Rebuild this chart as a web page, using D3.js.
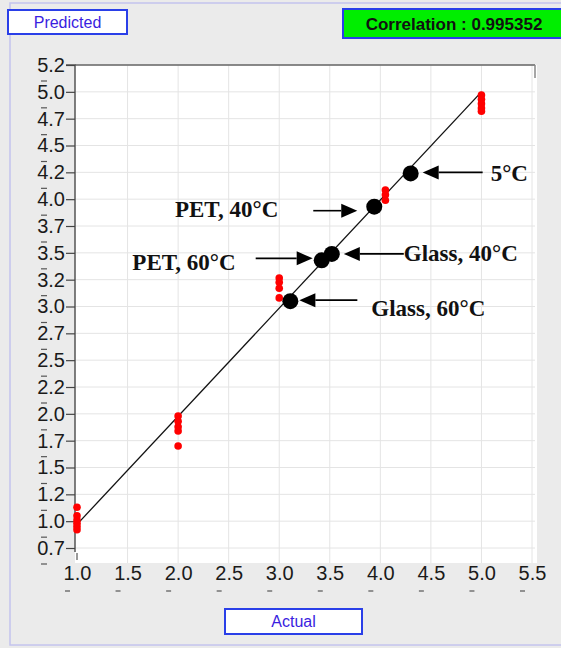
<!DOCTYPE html>
<html><head><meta charset="utf-8">
<script src="https://cdn.jsdelivr.net/npm/d3@7/dist/d3.min.js"></script>
<style>html,body{margin:0;padding:0;background:#ebebeb;}svg{display:block;}</style>
</head><body>
<svg id="chart" width="561" height="648"></svg>
<script>
// ---- data ----
const yTicks = [0.75,1.0,1.25,1.5,1.75,2.0,2.25,2.5,2.75,3.0,3.25,3.5,3.75,4.0,4.25,4.5,4.75,5.0,5.25];
const yTickLabels = ["0.7","1.0","1.2","1.5","1.7","2.0","2.2","2.5","2.7","3.0","3.2","3.5","3.7","4.0","4.2","4.5","4.7","5.0","5.2"];
const xTicks = [1.0,1.5,2.0,2.5,3.0,3.5,4.0,4.5,5.0,5.5];
const xTickLabels = ["1.0","1.5","2.0","2.5","3.0","3.5","4.0","4.5","5.0","5.5"];
// measured (red) points
const measuredActual    = [1,1,1,1,1,1, 2,2,2,2,2, 3,3,3,3, 4.05,4.05,4.05, 5,5,5,5,5];
const measuredPredicted = [1.13,1.05,1.01,0.98,0.95,0.92, 1.98,1.93,1.88,1.84,1.70, 3.265,3.225,3.17,3.08, 4.085,4.04,3.99, 4.97,4.93,4.89,4.85,4.82];
// labelled (black) points
const sampleNames     = ["5°C","PET, 40°C","Glass, 40°C","PET, 60°C","Glass, 60°C"];
const sampleActual    = [4.30,3.94,3.52,3.42,3.11];
const samplePredicted = [4.24,3.93,3.49,3.43,3.05];
// fit line
const fitActual = [1.0, 5.0];
const fitPredicted = [0.97, 5.0];
const correlationText = "Correlation : 0.995352";

// ---- drawing ----
const svg = d3.select("#chart");
const x = d3.scaleLinear().domain([1, 5.5]).range([77, 532]);
const y = d3.scaleLinear().domain([0.75, 5.25]).range([548, 65]);

// outer frame
svg.append("rect").attr("x",10).attr("y",3).attr("width",560).attr("height",642)
  .attr("fill","#ebebeb").attr("stroke","#c4c4ee").attr("stroke-width",1.5);

// plot area
svg.append("rect").attr("x",75).attr("y",65).attr("width",462).attr("height",498).attr("fill","#ffffff");

// grid
svg.append("g").selectAll("line").data(yTicks).join("line")
  .attr("x1",75).attr("x2",535).attr("y1",d=>y(d)).attr("y2",d=>y(d))
  .attr("stroke","#e4e4e4").attr("stroke-width",1);
svg.append("g").selectAll("line").data(xTicks.slice(1)).join("line")
  .attr("x1",d=>x(d)).attr("x2",d=>x(d)).attr("y1",65).attr("y2",563)
  .attr("stroke","#e4e4e4").attr("stroke-width",1);

// frame lines
svg.append("line").attr("x1",75).attr("x2",535).attr("y1",65).attr("y2",65).attr("stroke","#666").attr("stroke-width",1.5);
svg.append("line").attr("x1",535).attr("x2",535).attr("y1",65).attr("y2",78).attr("stroke","#888").attr("stroke-width",1.5);

// y axis
const yAxis = d3.axisLeft(y).tickValues(yTicks).tickSize(9).tickFormat((d,i)=>yTickLabels[i]);
const gy = svg.append("g").attr("transform","translate(75,0)").call(yAxis);
gy.select(".domain").attr("stroke","#555").attr("stroke-width",1.5).attr("d","M-9,65H0V552");
gy.selectAll(".tick line").attr("stroke","#444").attr("stroke-width",1.2);
gy.selectAll(".tick text").attr("x",-10).attr("fill","#1a1a1a")
  .style("font-family","'Liberation Sans',Arial,sans-serif").style("font-size","20px");
// small dash artefacts above y labels
svg.append("g").selectAll("line").data(yTicks).join("line")
  .attr("x1",41).attr("x2",47).attr("y1",d=>y(d)+16).attr("y2",d=>y(d)+16)
  .attr("stroke","#555").attr("stroke-width",1.2);

// x axis (labels only)
const xAxis = d3.axisBottom(x).tickValues(xTicks).tickSize(0).tickFormat((d,i)=>xTickLabels[i]);
const gx = svg.append("g").attr("transform","translate(0,563)").call(xAxis);
gx.select(".domain").remove();
gx.selectAll(".tick text").attr("y",3).attr("fill","#1a1a1a")
  .style("font-family","'Liberation Sans',Arial,sans-serif").style("font-size","20px");
svg.append("g").selectAll("line").data(xTicks).join("line")
  .attr("x1",d=>x(d)-12).attr("x2",d=>x(d)-7).attr("y1",591).attr("y2",591)
  .attr("stroke","#555").attr("stroke-width",1.2);
svg.append("line").attr("x1",x(1)).attr("x2",x(1)).attr("y1",553).attr("y2",560).attr("stroke","#555").attr("stroke-width",1.2);

// fit line
svg.append("line")
  .attr("x1",x(fitActual[0])).attr("y1",y(fitPredicted[0]))
  .attr("x2",x(fitActual[1])).attr("y2",y(fitPredicted[1]))
  .attr("stroke","#111").attr("stroke-width",1.3);

// measured points
svg.append("g").selectAll("circle").data(measuredActual).join("circle")
  .attr("cx",(d,i)=>x(d)).attr("cy",(d,i)=>y(measuredPredicted[i])).attr("r",3.8)
  .attr("fill","#ff0000");

// sample points
svg.append("g").selectAll("circle").data(sampleActual).join("circle")
  .attr("cx",(d,i)=>x(d)).attr("cy",(d,i)=>y(samplePredicted[i])).attr("r",8)
  .attr("fill","#000");

// annotations: arrows + labels (offsets relative to points)
const ann = [
  {tx:12, len:60, dy:-1, label:{dx:80, dy:9, anchor:"start"}},
  {tx:-17, len:44, dy:4, label:{dx:-96, dy:6, anchor:"end"}},
  {tx:12, len:60, dy:0, label:{dx:72, dy:7, anchor:"start"}},
  {tx:-9, len:57, dy:-2, label:{dx:-86, dy:12, anchor:"end"}},
  {tx:9, len:58, dy:-1, label:{dx:81, dy:16, anchor:"start"}}
];
const ag = svg.append("g");
sampleActual.forEach((a,i)=>{
  const cx = x(a), cy = y(samplePredicted[i]);
  const o = ann[i];
  const tipX = cx + o.tx, ty = cy + o.dy;
  const dir = o.tx > 0 ? 1 : -1;
  const baseX = tipX + dir*16;
  const tailX = tipX + dir*o.len;
  ag.append("line").attr("x1",tailX).attr("x2",baseX).attr("y1",ty).attr("y2",ty)
    .attr("stroke","#000").attr("stroke-width",1.6);
  ag.append("path").attr("d",`M${tipX},${ty}L${baseX},${ty-7}L${baseX},${ty+7}Z`).attr("fill","#000");
  ag.append("text").attr("x",cx+o.label.dx).attr("y",ty+o.label.dy)
    .attr("text-anchor",o.label.anchor)
    .style("font-family","'Liberation Serif','Times New Roman',serif").style("font-weight","bold").style("font-size","23px")
    .attr("fill","#111").text(sampleNames[i]);
});

// label boxes
function box(bx,by,bw,bh,fill,txt,color,size,weight){
  svg.append("rect").attr("x",bx).attr("y",by).attr("width",bw).attr("height",bh)
    .attr("fill",fill).attr("stroke","#2a3fe8").attr("stroke-width",2);
  svg.append("text").attr("x",bx+bw/2).attr("y",by+bh/2).attr("dy","0.36em")
    .attr("text-anchor","middle").attr("fill",color)
    .style("font-family","'Liberation Sans',Arial,sans-serif").style("font-size",size+"px").style("font-weight",weight)
    .text(txt);
}
box(8,10,119,24,"#ffffff","Predicted","#3a1ee0",16,"normal");
box(343,9,222,29,"#00ee00",correlationText,"#111",17,"bold");
box(225,609,137,25,"#ffffff","Actual","#3a1ee0",16,"normal");
</script>
</body></html>
